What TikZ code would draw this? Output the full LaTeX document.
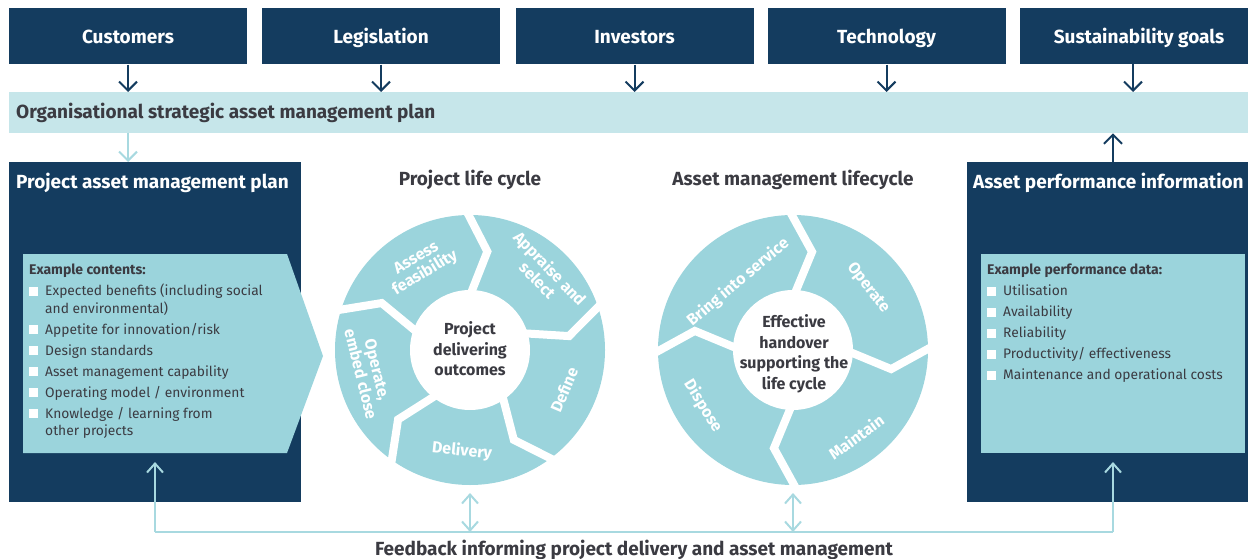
\documentclass[tikz,border=0pt]{standalone}
\usepackage{fontspec}
\setmainfont{Fira Sans}
\usetikzlibrary{arrows.meta,calc}
\definecolor{navy}{HTML}{143C5F}
\definecolor{band}{HTML}{C6E6EA}
\definecolor{seg}{HTML}{9BD4DC}
\definecolor{txt}{HTML}{3B3B42}
\definecolor{fbc}{HTML}{A8D9E0}
\newcommand\sqb{\textcolor{white}{\rule[0pt]{9pt}{9pt}}}
\tikzset{
  topbox/.style={fill=navy, minimum width=238pt, minimum height=56pt, inner sep=0pt, text=white, font=\bfseries\fontsize{19}{22}\selectfont, text height=13.2pt, text depth=0pt},
  darkarrow/.style={draw=navy, line width=2pt, -{Straight Barb[length=9pt,width=18pt]}},
  lightarrow/.style={draw=fbc, line width=2pt, -{Straight Barb[length=9pt,width=18pt]}},
  fbline/.style={draw=fbc, line width=2pt},
  fbarrow/.style={draw=fbc, line width=2pt, -{Straight Barb[length=9pt,width=16pt]}},
  fbboth/.style={draw=fbc, line width=2pt, {Straight Barb[length=9pt,width=16pt]}-{Straight Barb[length=9pt,width=16pt]}},
  title/.style={text=white, font=\bfseries\fontsize{19}{22}\selectfont, inner sep=0pt, anchor=west, text height=13.2pt, text depth=0pt},
  ctitle/.style={text=txt, font=\bfseries\fontsize{19}{22}\selectfont, inner sep=0pt, text height=13.2pt, text depth=0pt},
  seglabel/.style={text=white, font=\bfseries\fontsize{16}{17}\selectfont, align=center, inner sep=0pt},
  centerlabel/.style={text=txt, font=\bfseries\fontsize{16}{20.5}\selectfont, align=center, inner sep=0pt},
  listtext/.style={text=txt, font=\fontsize{13.8}{17.5}\selectfont, inner sep=0pt, anchor=north west},
  gapline/.style={draw=white, line width=8pt, line join=miter, miter limit=10},
}
\begin{document}
\begin{tikzpicture}[x=1pt,y=1pt]
\useasboundingbox (0,0) rectangle (1248,-559);

% top boxes
\node[topbox] (cust) at (128,-36.5) {Customers};
\node[topbox] (legi) at (381,-36.5) {Legislation};
\node[topbox] (inv) at (634.5,-36.5) {Investors};
\node[topbox] (tech) at (886.5,-36.5) {Technology};
\fill[navy] (1020,-8) rectangle (1248,-64);
\node[topbox, fill=none, minimum width=0pt, minimum height=0pt] (sust) at (1139,-36.5) {Sustainability goals};

% strategic band
\node[fill=band, minimum width=1239pt, minimum height=41pt, inner sep=0pt, anchor=north west] (band) at (9,-92) {};
\node[ctitle, anchor=west] (bandt) at (16,-111.5) {Organisational strategic asset management plan};

\draw[darkarrow] (cust.south) -- (cust.south |- band.north);
\draw[darkarrow] (legi.south) -- (legi.south |- band.north);
\draw[darkarrow] (inv.south) -- (inv.south |- band.north);
\draw[darkarrow] (tech.south) -- (tech.south |- band.north);
\coordinate (sustb) at (1133,-64);
\draw[darkarrow] (sustb) -- (sustb |- band.north);

% left dark box
\node[fill=navy, minimum width=292pt, minimum height=340pt, inner sep=0pt, anchor=north west] (pamp) at (9,-162) {};
\node[title] (pampt) at (16,-181.5) {Project asset management plan};
\draw[lightarrow] (128,-133) coordinate (bandl) -- (bandl |- pamp.north);

% pentagon
\fill[seg] (23,-254) coordinate (pentNW) -- (287,-254) -- (323,-356) coordinate (pentTip) -- (287,-453) -- (23,-453) coordinate (pentSW) -- cycle;
\node[listtext] (pentlist) at (29,-262) {%
  \begin{tabular}{@{}l@{\hspace{7pt}}l@{}}
  \multicolumn{2}{@{}l}{\bfseries\fontsize{14}{17.5}\selectfont Example contents:}\\[4pt]
  \sqb & Expected benefits (including social\\
       & and environmental)\\[3.5pt]
  \sqb & Appetite for innovation/risk\\[3.5pt]
  \sqb & Design standards\\[3.5pt]
  \sqb & Asset management capability\\[3.5pt]
  \sqb & Operating model / environment\\[3.5pt]
  \sqb & Knowledge / learning from\\
       & other projects
  \end{tabular}};

% right dark box
\node[fill=navy, minimum width=281pt, minimum height=340pt, inner sep=0pt, anchor=north west] (api) at (967,-162) {};
\node[title] (apit) at (973,-181.5) {Asset performance information};
\fill[seg] (981,-254) rectangle (1245,-453);
\node[listtext] (apilist) at (987,-262) {%
  \begin{tabular}{@{}l@{\hspace{7pt}}l@{}}
  \multicolumn{2}{@{}l}{\bfseries\fontsize{14}{17.5}\selectfont Example performance data:}\\[4pt]
  \sqb & Utilisation\\[3.5pt]
  \sqb & Availability\\[3.5pt]
  \sqb & Reliability\\[3.5pt]
  \sqb & Productivity/ effectiveness\\[3.5pt]
  \sqb & Maintenance and operational costs
  \end{tabular}};
\draw[darkarrow] (1113,-162) coordinate (apiup) -- (apiup |- band.south);

% project life cycle
\coordinate (pc) at (470,-350);
\node[ctitle] (pct) at (470,-178.5) {Project life cycle};
\fill[seg] (pc) circle (135);
\foreach \p in {90,18,-54,-126,162}{
  \draw[gapline] ($(pc)+(\p+2:142)$) -- ($(pc)+(\p-10:100)$) -- ($(pc)+(\p+2:50)$);
}
\fill[white] (pc) circle (60);
\node[centerlabel] (pcc) at (470,-349) {Project\\delivering\\outcomes};
\node[seglabel, rotate=31] (s1) at (421,-266) {Assess\\feasibility};
\node[seglabel, rotate=-46] (s2) at (544,-274) {Appraise and\\select};
\node[seglabel, rotate=67] (s3) at (564,-390) {Define};
\node[seglabel, rotate=-6] (s4) at (462,-451) {Delivery};
\node[seglabel, rotate=-76] (s5) at (369,-372) {Operate,\\embed close};

% asset management lifecycle
\coordinate (ac) at (793,-350);
\node[ctitle] (act) at (793,-178.5) {Asset management lifecycle};
\fill[seg] (ac) circle (135);
\foreach \p in {90,0,-90,180}{
  \draw[gapline] ($(ac)+(\p+2:142)$) -- ($(ac)+(\p-11:100)$) -- ($(ac)+(\p+1:50)$);
}
\fill[white] (ac) circle (60);
\node[centerlabel] (acc) at (794,-354) {Effective\\handover\\supporting the\\life cycle};
\node[seglabel, rotate=40] (a1) at (738,-282) {Bring into service};
\node[seglabel, rotate=-52] (a2) at (868,-288) {Operate};
\node[seglabel, rotate=36] (a3) at (856,-437) {Maintain};
\node[seglabel, rotate=-58] (a4) at (703,-406) {Dispose};

% feedback
\coordinate (fbL) at (155,-532);
\coordinate (fbR) at (1113,-532);
\coordinate (fbLt) at (155,-462);
\coordinate (fbRt) at (1113,-462);
\draw[fbline] (fbL) -- (fbR);
\draw[fbarrow] (fbL) -- (fbLt);
\draw[fbarrow] (fbR) -- (fbRt);
\draw[fbboth] (470,-493) coordinate (d1t) -- (d1t |- fbL);
\draw[fbboth] (793,-493) coordinate (d2t) -- (d2t |- fbL);
\node[ctitle] (fbt) at (634,-549) {Feedback informing project delivery and asset management};
\end{tikzpicture}
\end{document}
